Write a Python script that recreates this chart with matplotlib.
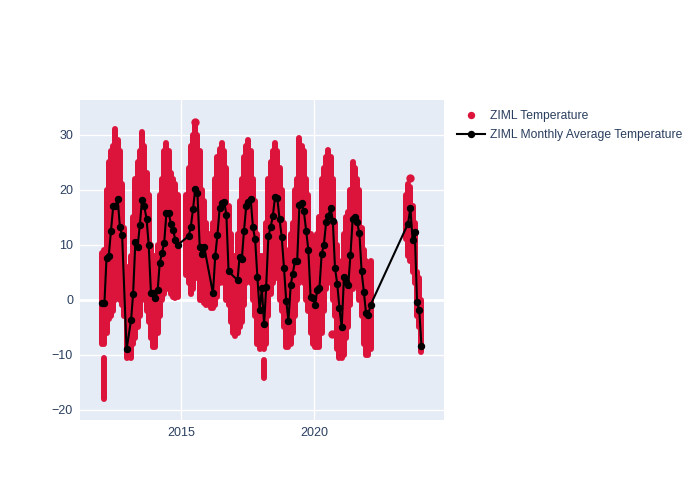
import numpy as np
import pandas as pd
import matplotlib
matplotlib.use("Agg")
import matplotlib.pyplot as plt
import matplotlib.dates as mdates

plt.rcParams['font.family'] = ['Liberation Sans', 'DejaVu Sans']

# ZIML temperature, monthly spread of the raw readings (max / min per month)
raw_start_1 = "2012-01"
raw_hi_1 = [8.5, 9, 20, 25, 27, 28, 31, 29, 27, 21, 13, 6,
            5, 8, 15, 22, 25, 27, 30.5, 28, 23, 19, 10, 8,
            8, 10, 19, 22, 27, 28.5, 27, 23, 22, 21, 19, None,
            None, None, 19, 24, 28, 30, 32, 30, 27, 20, 18, 14,
            12, 11, 14, 22, 26, 27.5, 28.5, 27, 24, 17, 12, 8,
            8, 12, 18, 22, 26, 28, 29, 27, 22, 18, 12, 8,
            8, 6, 14, 22, 25, 27, 28.5, 27, 24, 20, 14, 9,
            7, 12, 14, 20, 22, 29.5, 28, 27, 22, 19, 12, 10,
            10, 12, 15, 22, 24, 26, 27.3, 26, 22, 14, 10, 7,
            5, 12, 15, 16, 20, 25, 24, 22, 20, 13, 9, 7,
            6, 7]
raw_lo_1 = [-8, -8, -6, -3.5, -3, -2, 0, 1, 0, -1, -3, -10.5,
            -10, -10.5, -8, -7, -5, -3, 0, 1, -2, -4, -7, -8.5,
            -8.5, -6, -3, 0, 1, 2, 2, 1, 0.5, 0.3, 0.5, None,
            None, None, 4.5, 3, 1, 2, 5, 4, 0, 0, -0.5, -1,
            -1, -1.5, -1.5, -1, 0.5, 3, 4, 3, 0, -1, -4, -6,
            -6.5, -6, -5, -4, -1, 3, 4, 3, 0, -3, -8, -9,
            -8.5, -9, -8, -3, 1, 3, 5, 4, 0, -2, -5, -8.5,
            -8.5, -8, -6, -3, 0, 3, 4, 3, 0, -2, -6, -8,
            -8.5, -8.5, -8.5, -6, -2, 2, 3, 4, 0, -3, -9, -10.5,
            -10.5, -10, -7, -5, -1, 2, 4, 3, 0, -3, -8, -10,
            -10, -9]

raw_start_2 = "2023-06"
raw_hi_2 = [19, 21, 20.5, 17, 14, 5, 4, 0]
raw_lo_2 = [11, 8, 7, 5, 3, -3, -5, -9.5]

# cold spells that sit apart from the rest of the month
cold_months = ["2012-02", "2018-02"]
cold_hi = [-10.5, -11]
cold_lo = [-18, -14.2]

# single readings standing out of the cloud
odd_dates = ["2015-07-10", "2023-08-05", "2020-09-10"]
odd_values = [32.3, 22.2, -6.2]

# monthly average temperature
avg_months = ["2012-01", "2012-02", "2012-03", "2012-04", "2012-05", "2012-06",
              "2012-07", "2012-08", "2012-09", "2012-10", "2012-12",
              "2013-02", "2013-03", "2013-04", "2013-05", "2013-06", "2013-07",
              "2013-08", "2013-09", "2013-10", "2013-11", "2013-12",
              "2014-01", "2014-02", "2014-03", "2014-04", "2014-05", "2014-06",
              "2014-07", "2014-08", "2014-09", "2014-10", "2014-11",
              "2015-04", "2015-05", "2015-06", "2015-07", "2015-08", "2015-09",
              "2015-10", "2015-11",
              "2016-03", "2016-04", "2016-05", "2016-06", "2016-07", "2016-08",
              "2016-09", "2016-10",
              "2017-02", "2017-03", "2017-04", "2017-05", "2017-06", "2017-07",
              "2017-08", "2017-09", "2017-10", "2017-11", "2017-12",
              "2018-01", "2018-02", "2018-03", "2018-04", "2018-05", "2018-06",
              "2018-07", "2018-08", "2018-09", "2018-10", "2018-11", "2018-12",
              "2019-01", "2019-02", "2019-03", "2019-04", "2019-05", "2019-06",
              "2019-07", "2019-08", "2019-09", "2019-10", "2019-11", "2019-12",
              "2020-01", "2020-02", "2020-03", "2020-04", "2020-05", "2020-06",
              "2020-07", "2020-08", "2020-09", "2020-10", "2020-11", "2020-12",
              "2021-01", "2021-02", "2021-03", "2021-04", "2021-05", "2021-06",
              "2021-07", "2021-08", "2021-09", "2021-10", "2021-11", "2021-12",
              "2022-01", "2022-02",
              "2023-07", "2023-08", "2023-09", "2023-10", "2023-11", "2023-12",
              "2024-01"]
avg_values = [-0.6, -0.6, 7.6, 8.0, 12.6, 17.0,
              17.1, 18.4, 13.2, 11.8, -9.0,
              -3.6, 1.1, 10.6, 9.6, 13.6, 18.2,
              17.0, 14.8, 10.0, 1.2, 1.3,
              0.3, 1.8, 6.7, 8.6, 10.3, 15.8,
              15.9, 13.9, 12.8, 10.9, 10.0,
              11.6, 13.2, 16.5, 20.1, 19.4, 9.7,
              8.4, 9.7,
              1.2, 8.0, 11.8, 16.7, 17.7, 17.9,
              15.5, 5.2,
              3.6, 7.8, 7.4, 12.6, 17.1, 17.9,
              18.3, 13.2, 11.0, 4.1, -1.9,
              2.1, -4.4, 2.3, 11.6, 13.2, 15.3,
              18.7, 18.5, 14.7, 11.4, 5.8, -0.1,
              -3.8, 2.7, 4.8, 7.1, 7.1, 17.3,
              17.7, 16.1, 12.6, 9.1, 0.6, 0.3,
              -0.9, 1.9, 2.1, 8.4, 10.0, 14.1,
              15.2, 16.8, 14.4, 5.8, 2.9, -1.5,
              -5.0, 4.2, 3.2, 2.7, 8.2, 14.8,
              15.0, 14.1, 12.1, 5.2, 1.5, -2.4,
              -2.7, -0.9,
              13.9, 16.7, 10.9, 12.4, -0.3, -1.8,
              -8.4]


def mid_month(start, n):
    # middle of each month, starting at `start`
    return pd.period_range(start, periods=n, freq="M").to_timestamp() + pd.Timedelta(days=14)


fig = plt.figure(figsize=(7, 5), dpi=100)
ax = fig.add_axes([80 / 700, 80 / 500, 364 / 700, 320 / 500])
ax.set_facecolor("#E5ECF6")

red = "#DC143C"
dot_lw = 6 * 72 / 100  # 6 px marker

for start, hi, lo in [(raw_start_1, raw_hi_1, raw_lo_1), (raw_start_2, raw_hi_2, raw_lo_2)]:
    dates = mid_month(start, len(hi))
    keep = [h is not None for h in hi]
    d = dates[keep]
    h = np.array([v for v in hi if v is not None])
    l = np.array([v for v in lo if v is not None])
    ax.vlines(d, l, h, color=red, linewidth=dot_lw, capstyle="round", zorder=2)

cold_dates = pd.to_datetime(cold_months) + pd.Timedelta(days=14)
ax.vlines(cold_dates, cold_lo, cold_hi, color=red, linewidth=dot_lw, capstyle="round", zorder=2)
ax.scatter(pd.to_datetime(odd_dates), odd_values, s=36, color=red, linewidths=0, zorder=2)

avg_dates = pd.to_datetime(avg_months) + pd.Timedelta(days=14)
ax.plot(avg_dates, avg_values, color="black", linewidth=1.5, marker="o",
        markersize=dot_lw, zorder=3)

ax.set_xlim(pd.Timestamp("2011-03-17"), pd.Timestamp("2024-11-19"))
ax.set_ylim(-21.82, 36.36)
ax.set_yticks([-20, -10, 0, 10, 20, 30])
ax.xaxis.set_major_locator(mdates.YearLocator(5))
ax.xaxis.set_major_formatter(mdates.DateFormatter("%Y"))

ax.grid(True, color="white", linewidth=1)
ax.set_axisbelow(True)
ax.axhline(0, color="white", linewidth=2, zorder=1)
for s in ax.spines.values():
    s.set_visible(False)
ax.tick_params(length=0, labelsize=9, colors="#2a3f5f", pad=5)

# legend
h1 = plt.Line2D([], [], color=red, marker="o", linestyle="none", markersize=dot_lw)
h2 = plt.Line2D([], [], color="black", marker="o", linewidth=1.5, markersize=dot_lw)
fig.legend([h1, h2], ["ZIML Temperature", "ZIML Monthly Average Temperature"],
           loc="upper left", bbox_to_anchor=(452 / 700, 1 - 105 / 500),
           frameon=False, fontsize=8.7, labelcolor="#2a3f5f",
           handlelength=2.3, handletextpad=0.45, labelspacing=0.6, borderaxespad=0)

fig.savefig("out.png", dpi=100)
